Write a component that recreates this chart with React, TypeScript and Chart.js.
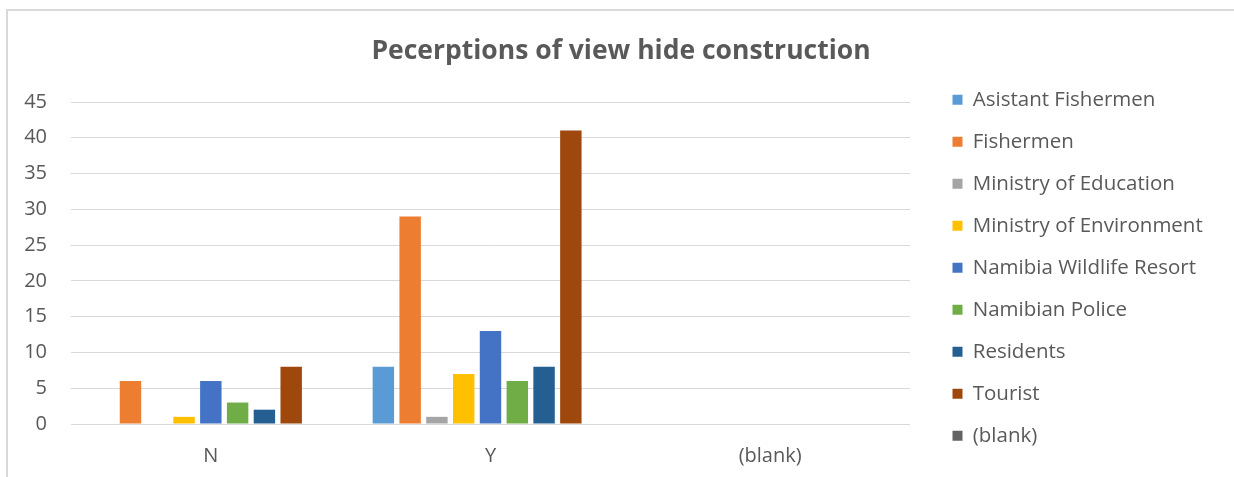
import React, { useEffect, useRef } from "react";
import { Chart, registerables } from "chart.js";

Chart.register(...registerables);

const categories = ["N", "Y", "(blank)"];
const seriesNames = [
  "Asistant Fishermen",
  "Fishermen",
  "Ministry of Education",
  "Ministry of Environment",
  "Namibia Wildlife Resort",
  "Namibian Police",
  "Residents",
  "Tourist",
  "(blank)",
];
const asistantFishermen = [0, 8, 0];
const fishermen = [6, 29, 0];
const ministryEducation = [0, 1, 0];
const ministryEnvironment = [1, 7, 0];
const namibiaWildlife = [6, 13, 0];
const namibianPolice = [3, 6, 0];
const residents = [2, 8, 0];
const tourist = [8, 41, 0];
const blankSeries = [0, 0, 0];
const seriesValues = [
  asistantFishermen,
  fishermen,
  ministryEducation,
  ministryEnvironment,
  namibiaWildlife,
  namibianPolice,
  residents,
  tourist,
  blankSeries,
];
const seriesColors = [
  "#5B9BD5",
  "#ED7D31",
  "#A5A5A5",
  "#FFC000",
  "#4472C4",
  "#70AD47",
  "#255E91",
  "#9E480E",
  "#636363",
];
const yTicks = [0, 5, 10, 15, 20, 25, 30, 35, 40, 45];
const titleText = "Pecerptions of view hide construction";

const FONT = "'Open Sans'";
const TEXT = "#595959";

export default function App() {
  const ref = useRef<HTMLCanvasElement | null>(null);

  useEffect(() => {
    if (!ref.current) return;
    const legendPos = {
      id: "legendPos",
      afterLayout(chart: any) {
        const l = chart.legend;
        if (!l) return;
        l.left = 931;
        l.right = 1234;
        l.width = 303;
        l.top = 68;
        l.bottom = 477;
        l.height = 477 - 68;
      },
    };
    const chart = new Chart(ref.current, {
      type: "bar",
      data: {
        labels: categories,
        datasets: seriesNames.map((name, i) => ({
          label: name,
          data: seriesValues[i],
          backgroundColor: seriesColors[i],
          borderWidth: 0,
          yAxisID: "y",
          categoryPercentage: 0.862,
          barPercentage: 0.8,
        })),
      },
      options: {
        responsive: false,
        animation: false,
        layout: { padding: { left: 8, right: 0, top: 0, bottom: 0 } },
        plugins: {
          title: {
            display: true,
            text: titleText,
            color: TEXT,
            font: { family: FONT, size: 26.5, weight: "bold" },
            padding: { top: 36, bottom: 34.2 },
          },
          legend: {
            display: true,
            position: "right",
            align: "start",
            maxWidth: 50,
            labels: {
              color: TEXT,
              font: { family: FONT, size: 20.5 },
              boxWidth: 10,
              boxHeight: 10,
              padding: 21.5,
            },
          },
          tooltip: { enabled: false },
        },
        scales: {
          x: {
            grid: { display: false, drawTicks: false },
            border: { display: false },
            ticks: {
              color: TEXT,
              font: { family: FONT, size: 20 },
              padding: 20,
            },
            afterFit(s: any) {
              s.height = 53;
            },
          },
          y: {
            min: 0,
            max: 45,
            afterBuildTicks(s: any) {
              s.ticks = yTicks.map((v) => ({ value: v }));
            },
            grid: { color: "#D9D9D9", lineWidth: 1, drawTicks: false },
            border: { display: false },
            ticks: {
              color: TEXT,
              font: { family: FONT, size: 20 },
              padding: 24,
            },
            afterFit(s: any) {
              s.width = 63;
            },
          },
          yRight: {
            type: "linear",
            position: "right",
            display: true,
            grid: { display: false, drawTicks: false },
            border: { display: false },
            ticks: { display: false },
            afterFit(s: any) {
              s.width = 274;
            },
          },
        },
      },
      plugins: [legendPos],
    });
    return () => chart.destroy();
  }, []);

  return (
    <div
      style={{
        position: "fixed",
        left: 0,
        top: 0,
        width: 1234,
        height: 477,
        overflow: "hidden",
        background: "#ffffff",
      }}
    >
      <div
        style={{
          position: "absolute",
          left: 6,
          top: 9,
          width: 1400,
          height: 600,
          border: "2px solid #D9D9D9",
          boxSizing: "border-box",
        }}
      />
      <canvas
        ref={ref}
        width={1234}
        height={477}
        style={{ position: "absolute", left: 0, top: 0, width: 1234, height: 477 }}
      />
    </div>
  );
}
